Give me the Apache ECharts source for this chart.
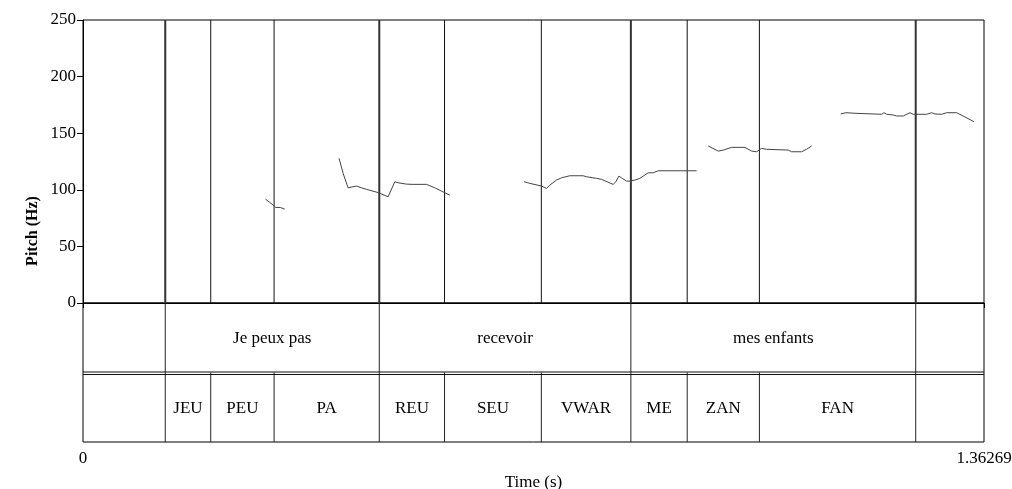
<!DOCTYPE html>
<html>
<head>
<meta charset="utf-8">
<script src="https://cdn.jsdelivr.net/npm/echarts@6/dist/echarts.min.js"></script>
<style>html,body{margin:0;padding:0;background:#fff}#c{width:1012px;height:489px}</style>
</head>
<body>
<div id="c"></div>
<script>
const totalTime = 1.36269;
const yTicks = [0, 50, 100, 150, 200, 250];

// Tier 1 (words)
const tier1Bounds = [0, 0.1244, 0.4481, 0.8286, 1.2594, 1.36269];
const tier1Labels = ["", "Je peux pas", "recevoir", "mes enfants", ""];
// Tier 2 (syllables)
const tier2Bounds = [0, 0.1244, 0.1932, 0.2890, 0.4481, 0.5468, 0.6932, 0.8286, 0.9138, 1.0230, 1.2594, 1.36269];
const tier2Labels = ["", "JEU", "PEU", "PA", "REU", "SEU", "VWAR", "ME", "ZAN", "FAN", ""];

// Pitch contour segments (time s, pitch Hz)
const seg1T = [0.2760, 0.2825, 0.2875, 0.2915, 0.2986, 0.3051];
const seg1Hz = [91.8, 88.8, 86.5, 84.4, 84.4, 82.9];
const seg2T = [0.3873, 0.3934, 0.4009, 0.4136, 0.4212, 0.4288, 0.4478, 0.4614, 0.4716, 0.4766, 0.4893, 0.4993, 0.5068, 0.5195, 0.5321, 0.5422, 0.5548];
const seg2Hz = [127.8, 114.5, 101.8, 103.3, 101.8, 100.4, 97.3, 93.8, 107.1, 106.2, 105.0, 104.8, 104.8, 104.8, 101.8, 98.8, 95.3];
const seg3T = [0.6672, 0.6758, 0.6935, 0.7011, 0.7061, 0.7162, 0.7238, 0.7363, 0.7565, 0.7616, 0.7767, 0.7843, 0.8018, 0.8059, 0.8105, 0.8155, 0.8221, 0.8271, 0.8347, 0.8422, 0.8548, 0.8624, 0.8699, 0.9280];
const seg3Hz = [107.1, 105.7, 103.3, 101.2, 104.2, 108.6, 110.6, 112.4, 112.4, 111.5, 110.1, 109.2, 104.8, 107.1, 112.1, 110.1, 107.7, 107.7, 108.6, 110.1, 115.0, 115.0, 116.8, 116.8];
const seg4T = [0.9456, 0.9607, 0.9683, 0.9810, 1.0011, 1.0112, 1.0188, 1.0227, 1.0263, 1.0339, 1.0666, 1.0717, 1.0869, 1.0944, 1.1020];
const seg4Hz = [138.7, 134.2, 135.1, 137.5, 137.5, 134.2, 133.6, 135.1, 136.6, 135.8, 135.1, 133.6, 133.6, 135.8, 138.7];
const seg5T = [1.1459, 1.1539, 1.1675, 1.1705, 1.2079, 1.2114, 1.2155, 1.2254, 1.2306, 1.2406, 1.2507, 1.2557, 1.2760, 1.2835, 1.2885, 1.2987, 1.3062, 1.3214, 1.3475];
const seg5Hz = [167.0, 168.1, 167.6, 166.7, 166.7, 168.1, 166.7, 166.1, 165.2, 165.2, 168.1, 166.7, 166.7, 168.1, 167.0, 166.7, 168.1, 168.1, 160.2];

const segments = [[seg1T, seg1Hz], [seg2T, seg2Hz], [seg3T, seg3Hz], [seg4T, seg4Hz], [seg5T, seg5Hz]];

const FONT = "'Liberation Serif', 'DejaVu Serif', serif";

function intervals(bounds, labels, tier) {
  const out = [];
  for (let i = 0; i < labels.length; i++) out.push([bounds[i], bounds[i + 1], tier, labels[i]]);
  return out;
}
const tierData = intervals(tier1Bounds, tier1Labels, 0).concat(intervals(tier2Bounds, tier2Labels, 1));
const innerBounds = tier2Bounds.slice(1, -1);
const wordBounds = tier1Bounds.slice(1, -1);

const chart = echarts.init(document.getElementById('c'), null, {renderer: 'canvas'});

const series = segments.map(s => ({
  type: 'line', xAxisIndex: 0, yAxisIndex: 0,
  data: s[0].map((t, i) => [t, s[1][i]]),
  showSymbol: false, symbol: 'none', silent: true,
  lineStyle: {color: '#444', width: 1}, z: 5, animation: false
}));

// vertical boundaries in pitch area
series.push({
  type: 'custom', xAxisIndex: 0, yAxisIndex: 0, silent: true, animation: false, z: 3,
  data: innerBounds.map(t => [t]),
  renderItem: function (params, api) {
    const t = api.value(0);
    const a = api.coord([t, 0]);
    const b = api.coord([t, 250]);
    const isWord = wordBounds.some(w => Math.abs(w - t) < 1e-6);
    return {type: 'line', shape: {x1: a[0], y1: a[1], x2: b[0], y2: b[1]}, style: {stroke: isWord ? '#333' : '#111', lineWidth: isWord ? 2 : 1}};
  }
});

// tiers
series.push({
  type: 'custom', xAxisIndex: 1, yAxisIndex: 1, silent: true, animation: false, z: 3,
  data: tierData,
  renderItem: function (params, api) {
    const s = api.value(0), e = api.value(1), tier = api.value(2);
    const lab = tierData[params.dataIndex][3];
    const p0 = api.coord([s, tier]);
    const p1 = api.coord([e, tier + 1]);
    const children = [];
    if (e < totalTime - 1e-6) {
      children.push({type: 'line', shape: {x1: p1[0], y1: p0[1], x2: p1[0], y2: p1[1]}, style: {stroke: '#222', lineWidth: 1}});
    }
    if (lab) {
      children.push({type: 'text', style: {text: lab, x: (p0[0] + p1[0]) / 2, y: (p0[1] + p1[1]) / 2 + 1, align: 'center', verticalAlign: 'middle', fill: '#000', font: "17px " + FONT}});
    }
    return {type: 'group', children: children};
  }
});

// double separator line between tiers
series.push({
  type: 'custom', xAxisIndex: 1, yAxisIndex: 1, silent: true, animation: false, z: 4,
  data: [[0, totalTime, 1]],
  renderItem: function (params, api) {
    const a = api.coord([api.value(0), api.value(2)]);
    const b = api.coord([api.value(1), api.value(2)]);
    return {type: 'group', children: [
      {type: 'line', shape: {x1: a[0], y1: a[1] - 0.5, x2: b[0], y2: b[1] - 0.5}, style: {stroke: '#111', lineWidth: 1}},
      {type: 'line', shape: {x1: a[0], y1: a[1] + 2, x2: b[0], y2: b[1] + 2}, style: {stroke: '#111', lineWidth: 1}}
    ]};
  }
});

chart.setOption({
  animation: false,
  backgroundColor: '#fff',
  grid: [
    {left: 83, top: 20, width: 901, height: 283, show: true, borderColor: '#000', borderWidth: 1, backgroundColor: 'transparent', containLabel: false, outerBoundsMode: 'none'},
    {left: 83, top: 303, width: 901, height: 139, show: true, borderColor: '#000', borderWidth: 1, backgroundColor: 'transparent', containLabel: false, outerBoundsMode: 'none'}
  ],
  xAxis: [
    {type: 'value', gridIndex: 0, min: 0, max: totalTime, show: false},
    {type: 'value', gridIndex: 1, min: 0, max: totalTime,
      axisLine: {show: true, lineStyle: {color: '#000', width: 1}},
      axisTick: {show: true, length: 5, inside: false, customValues: [0, totalTime], lineStyle: {color: '#000'}},
      axisLabel: {show: true, customValues: [0, totalTime], margin: 8, color: '#000', fontSize: 17, fontFamily: FONT,
        formatter: v => (Math.abs(v - totalTime) < 1e-6 ? '1.36269' : String(v))},
      splitLine: {show: false},
      name: 'Time (s)', nameLocation: 'middle', nameGap: 32,
      nameTextStyle: {color: '#000', fontSize: 17, fontFamily: FONT}
    }
  ],
  yAxis: [
    {type: 'value', gridIndex: 0, min: 0, max: 250, interval: 50,
      axisLine: {show: true, lineStyle: {color: '#000', width: 1}},
      axisTick: {show: true, length: 6, lineStyle: {color: '#000'}},
      axisLabel: {color: '#000', fontSize: 17, fontFamily: FONT, margin: 7,
        formatter: v => (yTicks.indexOf(v) >= 0 ? String(v) : '')},
      splitLine: {show: false}
    },
    {type: 'value', gridIndex: 1, min: 0, max: 2, inverse: true, show: false}
  ],
  graphic: [
    {type: 'text', x: 33, y: 231, rotation: Math.PI / 2,
      style: {text: 'Pitch (Hz)', align: 'center', verticalAlign: 'middle', fill: '#000', font: "bold 16px " + FONT}}
  ],
  series: series
});
</script>
</body>
</html>
